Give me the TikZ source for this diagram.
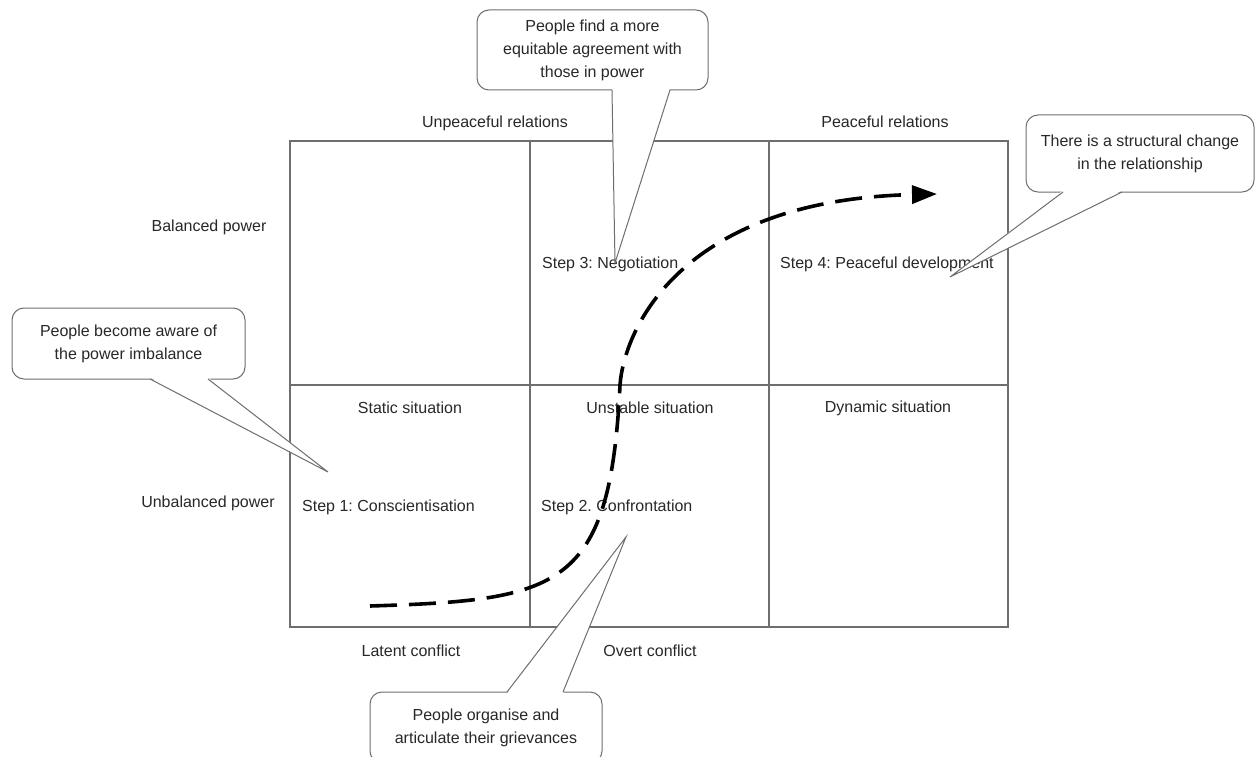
\documentclass[tikz,border=0pt]{standalone}
\usepackage{fontspec}
\setmainfont{Liberation Sans}
\usetikzlibrary{arrows.meta}
\frenchspacing
\definecolor{gridgray}{RGB}{110,110,110}
\definecolor{txt}{RGB}{40,40,40}
\tikzset{
  lbl/.style={font=\fontsize{16}{22}\selectfont\frenchspacing, text=txt, inner sep=0pt},
  gridline/.style={draw=gridgray, line width=1.5pt},
  callbox/.style={draw=gridgray, line width=1pt, fill=white, rounded corners=12pt,
    align=center, inner sep=0pt, font=\fontsize{16}{23}\selectfont\frenchspacing, text=txt},
  pointer/.style={draw=gridgray, line width=1pt, line join=miter},
  flow/.style={line width=3.6pt, dash pattern=on 27pt off 12pt, black,
    -{Triangle[length=25pt,width=18pt]}}
}
\begin{document}
\begin{tikzpicture}[x=1pt,y=-1pt]
\useasboundingbox (0,0) rectangle (1256,757);
\clip (0,0) rectangle (1256,757);
\fill[white] (0,0) rectangle (1256,757);

% grid
\coordinate (g00) at (290,141);
\coordinate (g33) at (1008,627);
\draw[gridline] (g00) rectangle (g33);
\draw[gridline] (530,141) coordinate (v1t) -- (530,627) coordinate (v1b);
\draw[gridline] (769,141) coordinate (v2t) -- (769,627) coordinate (v2b);
\draw[gridline] (290,385) coordinate (hl) -- (1008,385) coordinate (hr);

% axis labels
\node[lbl] (lUnpeace) at (495,123) {Unpeaceful relations};
\node[lbl] (lPeace) at (885,122) {Peaceful relations};
\node[lbl] (lBal) at (209,227) {Balanced power};
\node[lbl] (lUnbal) at (208,503) {Unbalanced power};
\node[lbl] (lLatent) at (411,651) {Latent conflict};
\node[lbl] (lOvert) at (650,651) {Overt conflict};

% cell labels
\node[lbl] (sStatic) at (410,408) {Static situation};
\node[lbl] (sUnstable) at (650,408) {Unstable situation};
\node[lbl] (sDynamic) at (888,408) {Dynamic situation};
\node[lbl, anchor=west] (st1) at (302,507) {Step 1: Conscientisation};
\node[lbl, anchor=west] (st2) at (541,507) {Step 2. Confrontation};
\node[lbl, anchor=west] (st3) at (542,264) {Step 3: Negotiation};
\node[lbl, anchor=west] (st4) at (780,264) {Step 4: Peaceful development};

% S-curve
\coordinate (s0) at (370,606);
\coordinate (s1) at (620,385);
\coordinate (s2) at (937,194);
\draw[flow] (s0) .. controls (560,600) and (610,590) .. (s1)
  .. controls (624,330) and (680,200) .. (s2);

% callout: top
\node[callbox, minimum width=231pt, minimum height=80pt] (cTop) at (592.5,50)
  {People find a more\\equitable agreement with\\those in power};
\coordinate (tTop) at (615,263);
\fill[white] (612,88.5) -- (tTop) -- (670,88.5) -- cycle;
\draw[pointer] (612,90) -- (tTop) -- (670,90);

% callout: right
\node[callbox, minimum width=228pt, minimum height=77pt] (cRight) at (1140,153.5)
  {There is a structural change\\in the relationship};
\coordinate (tRight) at (950,277);
\fill[white] (1063,190.5) -- (tRight) -- (1122,190.5) -- cycle;
\draw[pointer] (1063,192) -- (tRight) -- (1122,192);

% callout: left
\node[callbox, minimum width=233pt, minimum height=71pt] (cLeft) at (128.5,343.5)
  {People become aware of\\the power imbalance};
\coordinate (tLeft) at (328,472);
\fill[white] (150,377.5) -- (tLeft) -- (208,377.5) -- cycle;
\draw[pointer] (150,379) -- (tLeft) -- (208,379);

% callout: bottom
\node[callbox, minimum width=232pt, minimum height=71pt] (cBot) at (486,727.5)
  {People organise and\\articulate their grievances};
\coordinate (tBot) at (626,537);
\fill[white] (507,693.5) -- (tBot) -- (563,693.5) -- cycle;
\draw[pointer] (507,692) -- (tBot) -- (563,692);
\end{tikzpicture}
\end{document}
